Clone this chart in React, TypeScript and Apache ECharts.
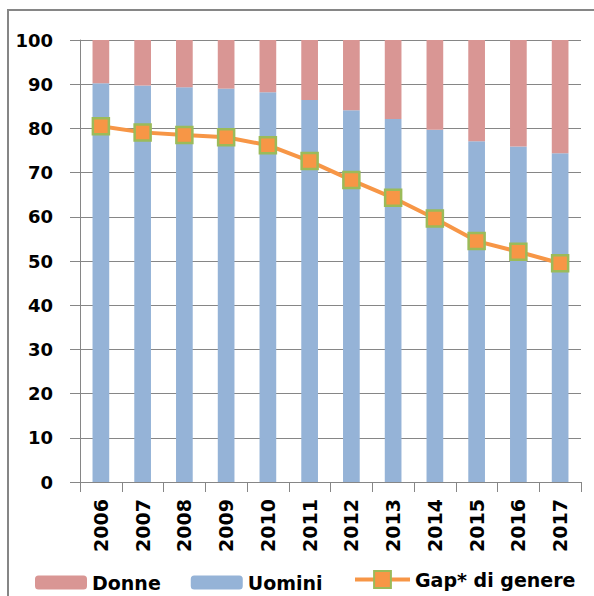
import React, { useEffect, useRef } from "react";
import * as echarts from "echarts";

const years = ["2006", "2007", "2008", "2009", "2010", "2011", "2012", "2013", "2014", "2015", "2016", "2017"];
const uomini = [90.2, 89.7, 89.3, 89.0, 88.2, 86.4, 84.1, 82.1, 79.7, 77.1, 75.9, 74.4];
const donne = [9.8, 10.3, 10.7, 11.0, 11.8, 13.6, 15.9, 17.9, 20.3, 22.9, 24.1, 25.6];
const gap = [80.5, 79.1, 78.5, 78.0, 76.2, 72.6, 68.3, 64.3, 59.6, 54.5, 52.1, 49.5];

const FONT = "DejaVu Sans";
const legendText = { fontFamily: FONT, fontWeight: "bold", fontSize: 19, color: "#000" };

export default function App() {
  const ref = useRef<HTMLDivElement>(null);
  useEffect(() => {
    if (!ref.current) return;
    const chart = echarts.init(ref.current, undefined, { renderer: "svg" });
    chart.setOption({
      animation: false,
      backgroundColor: "#ffffff",
      graphic: [
        {
          type: "rect",
          shape: { x: 8, y: 10, width: 620, height: 620 },
          style: { fill: "none", stroke: "#868686", lineWidth: 2 },
          silent: true,
          z: -1,
        },
      ],
      grid: { left: 80, right: 13, top: 40, bottom: 114, containLabel: false },
      legend: [
        {
          data: ["Donne", "Uomini"],
          left: 35,
          top: 573,
          padding: 0,
          itemWidth: 52,
          itemHeight: 14,
          itemGap: 30,
          textStyle: legendText,
        },
        {
          data: ["Gap* di genere"],
          left: 353,
          top: 570,
          padding: 0,
          itemWidth: 55,
          itemHeight: 21,
          textStyle: legendText,
          lineStyle: { width: 4, color: "#F79646" },
        },
      ],
      xAxis: {
        type: "category",
        data: years,
        axisLine: { show: true, lineStyle: { color: "#868686", width: 1 } },
        axisTick: { show: true, length: 10, alignWithLabel: false, lineStyle: { color: "#868686" } },
        axisLabel: {
          rotate: 90,
          margin: 17,
          fontFamily: FONT,
          fontWeight: "bold",
          fontSize: 19,
          color: "#000",
        },
      },
      yAxis: {
        type: "value",
        min: 0,
        max: 100,
        interval: 10,
        axisLine: { show: true, lineStyle: { color: "#868686", width: 1 } },
        axisTick: { show: true, length: 10, lineStyle: { color: "#868686" } },
        splitLine: { show: true, lineStyle: { color: "#868686", width: 1 } },
        axisLabel: {
          margin: 27,
          fontFamily: FONT,
          fontWeight: "bold",
          fontSize: 18,
          color: "#000",
        },
      },
      series: [
        {
          name: "Uomini",
          type: "bar",
          stack: "tot",
          barWidth: "40%",
          data: uomini,
          itemStyle: { color: "#95B3D7" },
        },
        {
          name: "Donne",
          type: "bar",
          stack: "tot",
          barWidth: "40%",
          data: donne,
          itemStyle: { color: "#D99694" },
        },
        {
          name: "Gap* di genere",
          type: "line",
          data: gap,
          z: 5,
          symbol: "rect",
          symbolSize: 16,
          lineStyle: { color: "#F79646", width: 4 },
          itemStyle: { color: "#F79646", borderColor: "#9BBB59", borderWidth: 2.5 },
        },
      ],
    });
    return () => chart.dispose();
  }, []);
  return (
    <div
      ref={ref}
      style={{ position: "fixed", left: 0, top: 0, width: 594, height: 596 }}
    />
  );
}
